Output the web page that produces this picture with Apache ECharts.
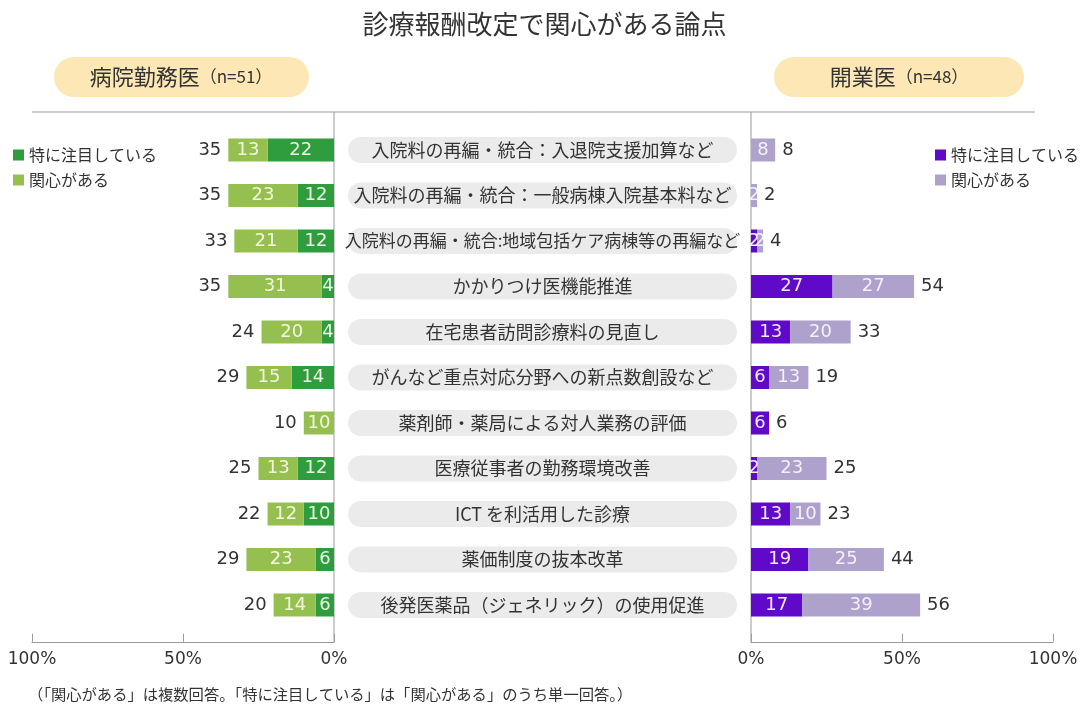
<!DOCTYPE html>
<html>
<head>
<meta charset="utf-8">
<title>診療報酬改定で関心がある論点</title>
<script src="https://cdn.jsdelivr.net/npm/echarts@6/dist/echarts.min.js"></script>
<style>
  html, body { margin: 0; padding: 0; background: #fff; }
  #chart { width: 1089px; height: 709px; }
</style>
</head>
<body>
<div id="chart"></div>
<script>
// 論点（上から順）
const topics = [
    '入院料の再編・統合：入退院支援加算など',
    '入院料の再編・統合：一般病棟入院基本料など',
    '入院料の再編・統合:地域包括ケア病棟等の再編など',
    'かかりつけ医機能推進',
    '在宅患者訪問診療料の見直し',
    'がんなど重点対応分野への新点数創設など',
    '薬剤師・薬局による対人業務の評価',
    '医療従事者の勤務環境改善',
    'ICT を利活用した診療',
    '薬価制度の抜本改革',
    '後発医薬品（ジェネリック）の使用促進'
];

// 病院勤務医 (n=51)
const hospitalFocus = [22, 12, 12, 4, 4, 14, 0, 12, 10, 6, 6];
const hospitalInterest = [13, 23, 21, 31, 20, 15, 10, 13, 12, 23, 14];
const hospitalTotal = [35, 35, 33, 35, 24, 29, 10, 25, 22, 29, 20];

// 開業医 (n=48)
const clinicFocus = [0, 0, 2, 27, 13, 6, 6, 2, 13, 19, 17];
const clinicInterest = [8, 2, 2, 27, 20, 13, 0, 23, 10, 25, 39];
const clinicTotal = [8, 2, 4, 54, 33, 19, 6, 25, 23, 44, 56];

const seriesNames = ['特に注目している', '関心がある'];

const JP = '"Noto Sans CJK JP", sans-serif';
const NUM = '"DejaVu Sans", sans-serif';
const colors = {
    hospitalFocus: '#2F9D3E',
    hospitalInterest: '#95C050',
    clinicFocus: '#6009C8',
    clinicInterest: '#AEA1CC',
    pill: '#EBEBEB',
    header: '#FDE7B4',
    line: '#9A9A9A',
    text: '#333'
};

const chart = echarts.init(document.getElementById('chart'));

const innerLabel = (color) => ({
    show: true,
    position: 'inside',
    color: color,
    fontSize: 18,
    fontFamily: NUM,
    formatter: (p) => (p.value > 0 ? p.value : '')
});

const totalLabel = (pos) => ({
    show: true,
    position: pos,
    distance: 7,
    color: colors.text,
    fontSize: 18,
    fontFamily: NUM
});

const xAxisBase = {
    type: 'value',
    min: 0,
    max: 100,
    interval: 50,
    offset: 14,
    axisLine: { show: true, lineStyle: { color: colors.line } },
    axisTick: { show: true, inside: true, length: 8, lineStyle: { color: colors.line } },
    axisLabel: { formatter: '{value}%', color: colors.text, fontSize: 17, fontFamily: NUM, margin: 9 },
    splitLine: { show: false }
};

const legendBase = {
    formatter: (n) => n.split(':')[1],
    top: 142,
    orient: 'vertical',
    icon: 'rect',
    itemWidth: 11,
    itemHeight: 11,
    itemGap: 9,
    selectedMode: false,
    textStyle: { fontSize: 16, color: colors.text, fontFamily: JP }
};

chart.setOption({
    backgroundColor: '#fff',
    animation: false,
    title: {
        text: '診療報酬改定で関心がある論点',
        left: 'center',
        top: 6,
        textStyle: { fontSize: 26, fontWeight: 'normal', color: colors.text, fontFamily: JP }
    },
    legend: [
        Object.assign({}, legendBase, {
            data: ['病院勤務医:' + seriesNames[0], '病院勤務医:' + seriesNames[1]],
            left: 8
        }),
        Object.assign({}, legendBase, {
            data: ['開業医:' + seriesNames[0], '開業医:' + seriesNames[1]],
            left: 930
        })
    ],
    grid: [
        { left: 32, width: 302, top: 127.25, height: 500.5 },
        { left: 751, width: 302, top: 127.25, height: 500.5 }
    ],
    xAxis: [
        Object.assign({}, xAxisBase, { gridIndex: 0, inverse: true }),
        Object.assign({}, xAxisBase, { gridIndex: 1 })
    ],
    yAxis: [
        {
            gridIndex: 0,
            type: 'category',
            data: topics,
            inverse: true,
            position: 'right',
            axisLine: { show: false },
            axisTick: { show: false },
            axisLabel: {
                margin: 208.5,
                align: 'center',
                width: 389,
                lineHeight: 26,
                backgroundColor: colors.pill,
                borderRadius: 13,
                color: colors.text,
                fontSize: 18,
                fontFamily: JP,
                formatter: (v) => (v.length > 22 ? '{s|' + v + '}' : v),
                rich: { s: { fontSize: 17, fontFamily: JP, color: colors.text, lineHeight: 26 } }
            }
        },
        {
            gridIndex: 1,
            type: 'category',
            data: topics,
            inverse: true,
            axisLine: { show: false },
            axisTick: { show: false },
            axisLabel: { show: false }
        }
    ],
    series: [
        {
            name: '病院勤務医:' + seriesNames[0],
            type: 'bar', xAxisIndex: 0, yAxisIndex: 0, stack: 'hospital',
            barWidth: 23, barGap: '-100%',
            itemStyle: { color: colors.hospitalFocus },
            label: innerLabel('#EAF5E4'),
            data: hospitalFocus
        },
        {
            name: '病院勤務医:' + seriesNames[1],
            type: 'bar', xAxisIndex: 0, yAxisIndex: 0, stack: 'hospital',
            barWidth: 23, barGap: '-100%',
            itemStyle: { color: colors.hospitalInterest },
            label: innerLabel('#F2F6DE'),
            data: hospitalInterest
        },
        {
            name: '病院勤務医:合計',
            type: 'bar', xAxisIndex: 0, yAxisIndex: 0,
            barWidth: 23, barGap: '-100%',
            itemStyle: { color: 'rgba(0,0,0,0)' },
            label: totalLabel('left'),
            data: hospitalTotal
        },
        {
            name: '開業医:' + seriesNames[0],
            type: 'bar', xAxisIndex: 1, yAxisIndex: 1, stack: 'clinic',
            barWidth: 23, barGap: '-100%',
            itemStyle: { color: colors.clinicFocus },
            label: innerLabel('#F1EAFB'),
            data: clinicFocus
        },
        {
            name: '開業医:' + seriesNames[1],
            type: 'bar', xAxisIndex: 1, yAxisIndex: 1, stack: 'clinic',
            barWidth: 23, barGap: '-100%',
            itemStyle: { color: colors.clinicInterest },
            label: innerLabel('#F3F0F8'),
            data: clinicInterest
        },
        {
            name: '開業医:合計',
            type: 'bar', xAxisIndex: 1, yAxisIndex: 1,
            barWidth: 23, barGap: '-100%',
            itemStyle: { color: 'rgba(0,0,0,0)' },
            label: totalLabel('right'),
            data: clinicTotal
        }
    ],
    graphic: [
        // 見出しの枠
        { type: 'rect', shape: { x: 54, y: 57, width: 255, height: 40, r: 20 }, style: { fill: colors.header } },
        { type: 'rect', shape: { x: 774, y: 57, width: 250, height: 40, r: 20 }, style: { fill: colors.header } },
        {
            type: 'text', x: 181, y: 77,
            style: {
                text: '{a|病院勤務医}{b|（n=51）}',
                align: 'center', verticalAlign: 'middle',
                rich: {
                    a: { fontSize: 22, fontFamily: JP, fill: colors.text },
                    b: { fontSize: 17, fontFamily: JP, fill: colors.text }
                }
            }
        },
        {
            type: 'text', x: 899, y: 77,
            style: {
                text: '{a|開業医}{b|（n=48）}',
                align: 'center', verticalAlign: 'middle',
                rich: {
                    a: { fontSize: 22, fontFamily: JP, fill: colors.text },
                    b: { fontSize: 17, fontFamily: JP, fill: colors.text }
                }
            }
        },
        // 区切り線
        { type: 'line', shape: { x1: 32, y1: 112, x2: 1035, y2: 112 }, style: { stroke: colors.line, lineWidth: 1 } },
        { type: 'line', shape: { x1: 334, y1: 112, x2: 334, y2: 642 }, style: { stroke: colors.line, lineWidth: 1 } },
        { type: 'line', shape: { x1: 751, y1: 112, x2: 751, y2: 642 }, style: { stroke: colors.line, lineWidth: 1 } },
        // 注記
        {
            type: 'text', x: 28, y: 694,
            style: {
                text: '（「関心がある」は複数回答。「特に注目している」は「関心がある」のうち単一回答。）',
                verticalAlign: 'middle',
                fontSize: 15.3, fontFamily: JP, fill: colors.text
            }
        }
    ]
});
</script>
</body>
</html>
